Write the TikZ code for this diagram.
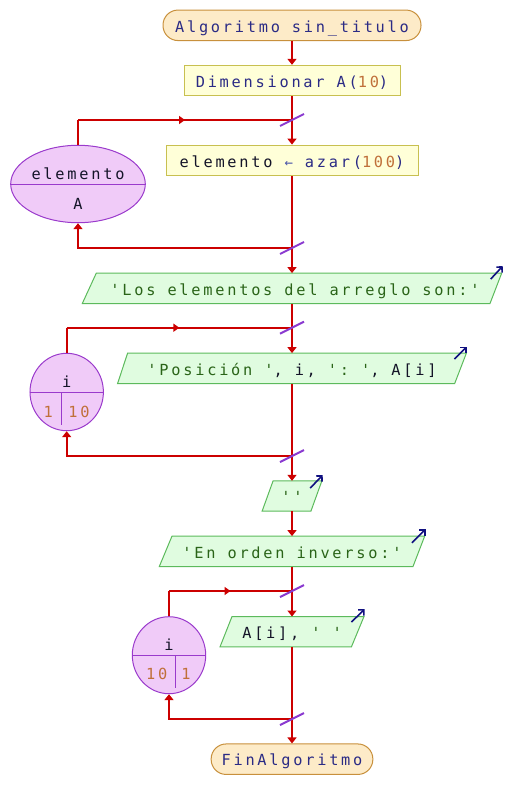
\documentclass[tikz,border=0pt]{standalone}
\usepackage{fontspec}
\setmonofont{DejaVu Sans Mono}[LetterSpace=18]
\usetikzlibrary{arrows.meta,calc,backgrounds,decorations.markings,shapes.geometric}
\definecolor{kw}{HTML}{2B2B85}
\definecolor{strc}{HTML}{2A6418}
\definecolor{num}{HTML}{C0703A}
\definecolor{varc}{HTML}{141428}
\definecolor{arrc}{HTML}{4A55A8}
\definecolor{termfill}{HTML}{FDEBC8}
\definecolor{termdraw}{HTML}{C8903C}
\definecolor{procfill}{HTML}{FFFFD8}
\definecolor{procdraw}{HTML}{C8C050}
\definecolor{iofill}{HTML}{E0FCE0}
\definecolor{iodraw}{HTML}{5CBA5C}
\definecolor{loopfill}{HTML}{F0CBF8}
\definecolor{loopdraw}{HTML}{9A3ACC}
\definecolor{flowred}{HTML}{CC0000}
\definecolor{slashc}{HTML}{8A3AD0}
\definecolor{outc}{HTML}{101080}
\begin{document}
\begin{tikzpicture}[x=1pt,y=-1pt,
  txt/.style={font=\ttfamily\fontsize{15.3}{18}\selectfont, inner sep=0pt},
  boxtxt/.style={txt, text height=15, text depth=1.6},
  term/.style={boxtxt, draw=termdraw, fill=termfill, line width=1pt, rounded corners=15pt, minimum height=30.5},
  proc/.style={boxtxt, draw=procdraw, fill=procfill, line width=1pt, minimum height=30.4},
  io/.style={boxtxt, minimum height=30},
  iobox/.style={draw=iodraw, fill=iofill, line width=1pt},
  loopnode/.style={ellipse, draw=loopdraw, fill=loopfill, line width=1pt, inner sep=0pt},
  loopline/.style={draw=loopdraw, line width=1pt},
  fline/.style={color=flowred, line width=2pt},
  flow/.style={fline, -{Triangle[length=6pt,width=9pt]}},
  midarrow/.style={postaction={decorate}, decoration={markings, mark=at position 0.5 with {\arrow[flowred]{Triangle[length=6pt,width=8pt]}}}},
  slashmark/.style={draw=slashc, line width=2pt},
  outarrow/.style={draw=outc, line width=1.6pt, -{Straight Barb[length=4pt,width=8pt]}}
]
\useasboundingbox (0,0) rectangle (506,809);

% main flow nodes
\node[term, minimum width=258] (start) at (292,25.3) {\color{kw}Algoritmo sin\_titulo};
\node[proc, minimum width=216] (dim) at (292,80.5) {\color{kw}Dimensionar A(\textcolor{num}{10})};
\node[proc, minimum width=252] (asig) at (292,160.3) {\textcolor{varc}{elemento} \textcolor{arrc}{{\fontsize{14}{14}\selectfont ←}} \textcolor{kw}{azar(}\textcolor{num}{100}\textcolor{kw}{)}};
\node[io, minimum width=419] (o1) at (292,288.3) {\color{strc}\hspace{6pt}'Los elementos del arreglo son:'};
\node[io, minimum width=348.4] (o2) at (292,368.3) {\textcolor{strc}{'Posición '}\textcolor{varc}{, i, }\textcolor{strc}{': '}\textcolor{varc}{, A[i]}};
\node[io, minimum width=59.4] (o3) at (292,496) {\color{strc}''};
\node[io, minimum width=265] (o4) at (292,551.3) {\color{strc}'En orden inverso:'};
\node[io, minimum width=143.6] (o5) at (292,631.7) {\textcolor{varc}{A[i], }\textcolor{strc}{' '}};
\node[term, minimum width=161.7] (fin) at (292,759.2) {\color{kw}FinAlgoritmo};

% parallelogram outlines
\begin{scope}[on background layer]
  \draw[iobox] (o1.south west) -- ($(o1.north west)+(14,0)$) -- (o1.north east) -- ($(o1.south east)+(-11.7,0)$) -- cycle;
  \draw[iobox] (o2.south west) -- ($(o2.north west)+(10,0)$) -- (o2.north east) -- ($(o2.south east)+(-11.7,0)$) -- cycle;
  \draw[iobox] (o3.south west) -- ($(o3.north west)+(11,0)$) -- (o3.north east) -- ($(o3.south east)+(-11,0)$) -- cycle;
  \draw[iobox] (o4.south west) -- ($(o4.north west)+(12.7,0)$) -- (o4.north east) -- ($(o4.south east)+(-11.7,0)$) -- cycle;
  \draw[iobox] (o5.south west) -- ($(o5.north west)+(12,0)$) -- (o5.north east) -- ($(o5.south east)+(-12.6,0)$) -- cycle;
\end{scope}

% output marks
\draw[outarrow] ($(o1.north east)+(-11,6)$) -- ++(12,-13);
\draw[outarrow] ($(o2.north east)+(-12,6)$) -- ++(12.5,-12.5);
\draw[outarrow] ($(o3.north east)+(-11.7,7.3)$) -- ++(12.5,-13);
\draw[outarrow] ($(o4.north east)+(-12.7,6.7)$) -- ++(13.5,-13.5);
\draw[outarrow] ($(o5.north east)+(-12.6,5.6)$) -- ++(13.3,-13);

% loop nodes
\node[loopnode, minimum width=134.6, minimum height=77.4] (ell) at (78,184) {};
\draw[loopline] (ell.west) -- (ell.east);
\node[txt, text=varc] (ellv) at (78,173.5) {elemento};
\node[txt, text=varc] (ella) at (78,204) {A};

\node[loopnode, minimum width=73.4, minimum height=77.4] (cir1) at (66.7,392) {};
\draw[loopline] (cir1.west) -- (cir1.east);
\draw[loopline] ($(cir1.center)+(-5,0)$) -- ($(cir1.center)+(-5,33)$);
\node[txt, text=varc] (cir1v) at (66.7,382) {i};
\node[txt, text=num] (cir1a) at (48.3,411.5) {1};
\node[txt, text=num] (cir1b) at (79,411.5) {10};

\node[loopnode, minimum width=73.4, minimum height=77] (cir2) at (169,655.2) {};
\draw[loopline] (cir2.west) -- (cir2.east);
\draw[loopline] ($(cir2.center)+(6.7,0)$) -- ($(cir2.center)+(6.7,32.5)$);
\node[txt, text=varc] (cir2v) at (169,645) {i};
\node[txt, text=num] (cir2a) at (156.7,674.3) {10};
\node[txt, text=num] (cir2b) at (186,674.3) {1};

% junction coordinates
\coordinate (j1) at (292,120);
\coordinate (j2) at (292,248);
\coordinate (j3) at (292,327.7);
\coordinate (j4) at (292,456);
\coordinate (j5) at (292,591);
\coordinate (j6) at (292,719);
\coordinate (c1) at (78,120);
\coordinate (c2) at (78,248);
\coordinate (c3) at (66.7,327.7);
\coordinate (c4) at (66.7,456);
\coordinate (c5) at (169,591);
\coordinate (c6) at (169,719);

% main connectors
\draw[flow] (start) -- (dim);
\draw[fline] (dim) -- (j1);
\draw[flow] (j1) -- (asig);
\draw[fline] (asig) -- (j2);
\draw[flow] (j2) -- (o1);
\draw[fline] (o1) -- (j3);
\draw[flow] (j3) -- (o2);
\draw[fline] (o2) -- (j4);
\draw[flow] (j4) -- (o3);
\draw[flow] (o3) -- (o4);
\draw[fline] (o4) -- (j5);
\draw[flow] (j5) -- (o5);
\draw[fline] (o5) -- (j6);
\draw[flow] (j6) -- (fin);

% loops
\draw[fline] (ell.north) -- (c1);
\draw[fline, midarrow] (c1) -- (j1);
\draw[flow] (j2) -- (c2) -- (ell.south);
\draw[fline] (cir1.north) -- (c3);
\draw[fline, midarrow] (c3) -- (j3);
\draw[flow] (j4) -- (c4) -- (cir1.south);
\draw[fline] (cir2.north) -- (c5);
\draw[fline, midarrow] (c5) -- (j5);
\draw[flow] (j6) -- (c6) -- (cir2.south);

% slash marks
\foreach \j in {j1,j2,j3,j4,j5,j6}{
  \draw[slashmark] ($(\j)+(-12,6)$) -- ($(\j)+(12,-6)$);
}
\end{tikzpicture}
\end{document}
